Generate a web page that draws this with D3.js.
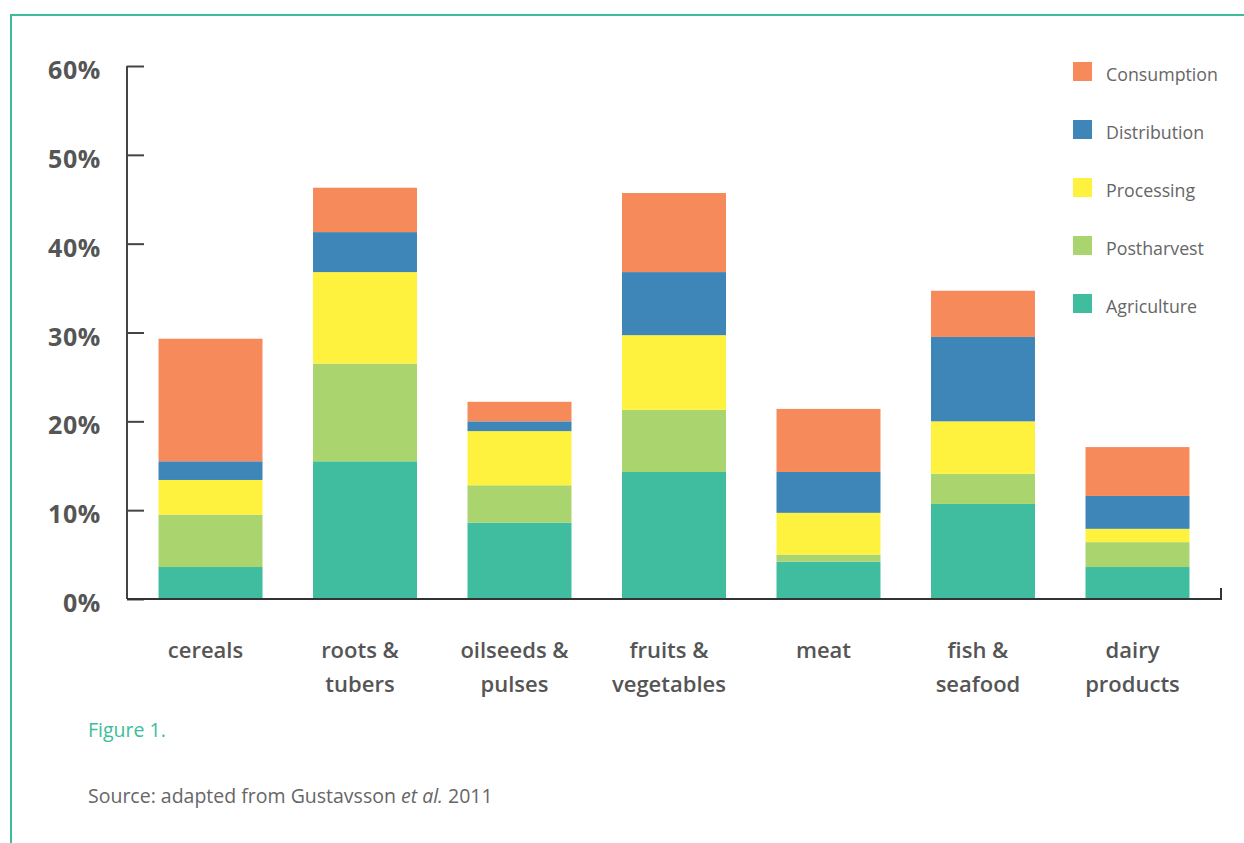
<!DOCTYPE html>
<html>
<head>
<meta charset="utf-8">
<script src="https://cdn.jsdelivr.net/npm/d3@7"></script>
<style>
  html, body { margin: 0; padding: 0; background: #fff; }
  svg { display: block; font-family: "Open Sans", "DejaVu Sans", sans-serif; }
</style>
</head>
<body>
<svg id="chart" width="1244" height="843"></svg>
<script>
/* ── Data (percent of food lost, per stage) ─────────────── */
const categories  = ['cereals', 'roots & tubers', 'oilseeds & pulses', 'fruits & vegetables', 'meat', 'fish & seafood', 'dairy products'];
const catLines    = [['cereals'], ['roots &', 'tubers'], ['oilseeds &', 'pulses'], ['fruits &', 'vegetables'], ['meat'], ['fish &', 'seafood'], ['dairy', 'products']];
const stages      = ['Agriculture', 'Postharvest', 'Processing', 'Distribution', 'Consumption'];
const agriculture  = [3.6, 15.5, 8.6, 14.3, 4.2, 10.7, 3.6];
const postharvest  = [5.9, 11.0, 4.2, 7.0, 0.8, 3.4, 2.8];
const processing   = [3.9, 10.3, 6.1, 8.4, 4.7, 5.9, 1.5];
const distribution = [2.1, 4.5, 1.1, 7.1, 4.6, 9.5, 3.7];
const consumption  = [13.8, 5.0, 2.2, 8.9, 7.1, 5.2, 5.5];
const yTicks       = [0, 10, 20, 30, 40, 50, 60];
const stageColors  = ['#40bd9e', '#aad46e', '#fff23e', '#3e85b8', '#f68a5a'];

/* ── Build rows for d3.stack ────────────────────────────── */
const seriesVals = [agriculture, postharvest, processing, distribution, consumption];
const rows = categories.map((c, i) => {
  const r = { cat: c };
  stages.forEach((s, k) => { r[s] = seriesVals[k][i]; });
  return r;
});

const svg = d3.select('#chart');
const ink = '#555';
const teal = '#3dbd9c';

// frame (teal border on top and left)
svg.append('path')
  .attr('d', 'M11,843 V15 H1244')
  .attr('fill', 'none')
  .attr('stroke', teal)
  .attr('stroke-width', 2);

const x = d3.scaleBand()
  .domain(categories)
  .range([127, 1221])
  .paddingInner(0.327)
  .paddingOuter(0.204);

const y = d3.scaleLinear().domain([0, 60]).range([599, 66]);
const color = d3.scaleOrdinal().domain(stages).range(stageColors);

const stacked = d3.stack().keys(stages)(rows);

/* ── Bars ───────────────────────────────────────────────── */
svg.append('g')
  .selectAll('g')
  .data(stacked)
  .join('g')
  .attr('fill', d => color(d.key))
  .selectAll('rect')
  .data(d => d)
  .join('rect')
  .attr('x', d => x(d.data.cat))
  .attr('width', x.bandwidth())
  .attr('y', d => y(d[1]))
  .attr('height', d => y(d[0]) - y(d[1]));

/* ── Y axis ─────────────────────────────────────────────── */
const yAxis = svg.append('g')
  .attr('transform', 'translate(127,0)')
  .call(d3.axisRight(y).tickValues(yTicks).tickSize(17).tickFormat(''));
yAxis.select('.domain').attr('d', `M0,${y(60)}V${y(0)}`).attr('stroke', '#444').attr('stroke-width', 2);
yAxis.selectAll('.tick line').attr('stroke', '#444').attr('stroke-width', 2);

svg.append('g')
  .selectAll('text')
  .data(yTicks)
  .join('text')
  .attr('x', 101)
  .attr('y', d => y(d) + 13)
  .attr('text-anchor', 'end')
  .attr('fill', ink)
  .attr('font-size', 25)
  .attr('letter-spacing', 0.6)
  .attr('font-weight', 700)
  .text(d => d + '%');

/* ── X axis ─────────────────────────────────────────────── */
svg.append('path')
  .attr('d', `M127,${y(0)} H1221 V${y(0) - 11}`)
  .attr('fill', 'none')
  .attr('stroke', '#333')
  .attr('stroke-width', 2);

const xLab = svg.append('g')
  .selectAll('text')
  .data(categories)
  .join('text')
  .attr('text-anchor', 'middle')
  .attr('fill', ink)
  .attr('font-size', 22)
  .attr('font-weight', 600)
  .attr('y', 658);

xLab.selectAll('tspan')
  .data((d, i) => catLines[i].map(t => ({ t, c: d })))
  .join('tspan')
  .attr('x', d => x(d.c) + x.bandwidth() / 2 - 5)
  .attr('dy', (d, j) => j === 0 ? 0 : 34)
  .text(d => d.t);

/* ── Legend ─────────────────────────────────────────────── */
const legend = svg.append('g')
  .selectAll('g')
  .data(stages.slice().reverse())
  .join('g')
  .attr('transform', (d, i) => `translate(1073,${62 + i * 58})`);

legend.append('rect')
  .attr('width', 19)
  .attr('height', 19)
  .attr('fill', d => color(d));

legend.append('text')
  .attr('x', 33)
  .attr('y', 19)
  .attr('fill', '#666')
  .attr('font-size', 17.8)
  .text(d => d);

/* ── Caption ────────────────────────────────────────────── */
svg.append('text')
  .attr('x', 88)
  .attr('y', 737)
  .attr('fill', teal)
  .attr('font-size', 19.5)
  .text('Figure 1.');

const src = svg.append('text')
  .attr('x', 88)
  .attr('y', 803)
  .attr('fill', '#666')
  .attr('font-size', 19.5);
src.append('tspan').text('Source: adapted from Gustavsson ');
src.append('tspan').attr('font-style', 'italic').text('et al.');
src.append('tspan').text(' 2011');
</script>
</body>
</html>
